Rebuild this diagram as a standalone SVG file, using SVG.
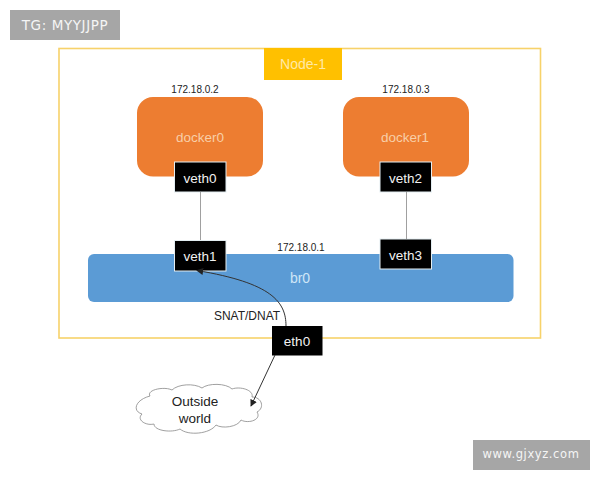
<svg xmlns="http://www.w3.org/2000/svg" width="600" height="480" viewBox="0 0 600 480">
<style>
text{font-family:"Liberation Sans",Arial,sans-serif;text-anchor:middle}
.b{fill:#000;stroke:#e4eef2;stroke-width:1}
.bt{fill:#f2f2f2;font-size:13.500px}
.d{fill:#ed7d31;stroke:none}
.dt{fill:#f8cfa8;font-size:13.500px}
.ip{fill:#222;font-size:10px}
.wm{fill:#a6a6a6}
.wmt{fill:#f5f5f5;font-family:"DejaVu Sans",sans-serif;font-size:13.500px;letter-spacing:.6px}
.c{fill:none;stroke:#333;stroke-width:1}
.g{fill:none;stroke:#a0a0a0;stroke-width:1}
</style>
<defs>
<marker id="a" viewBox="0 0 8 8" refX="7" refY="4" markerWidth="7" markerHeight="7" orient="auto" markerUnits="userSpaceOnUse"><path d="M0 0L8 4L0 8Z" fill="#222"/></marker>
</defs>
<rect width="600" height="480" fill="#fff"/>
<g id="wm1"><rect class="wm" x="10" y="10" width="110" height="30"/><text class="wmt" x="65" y="30">TG: MYYJJPP</text></g>
<g id="node-1"><rect x="59" y="48.500" width="481.500" height="289.500" fill="#fff" stroke="#f7d26a" stroke-width="1.600"/>
<rect x="264" y="48" width="78" height="32" fill="#ffc000"/><text x="303" y="69" fill="#ffe9a6" font-size="14">Node-1</text></g>
<g id="br0"><rect x="88" y="254" width="425.500" height="48" rx="6" fill="#5b9bd5"/><text x="300" y="283" fill="#cfe6f7" font-size="14">br0</text></g>
<g id="docker0"><rect class="d" x="137" y="97" width="126" height="79.500" rx="16"/><text class="dt" x="200" y="142">docker0</text></g>
<g id="docker1"><rect class="d" x="343" y="97" width="126" height="79.500" rx="16"/><text class="dt" x="405" y="142">docker1</text></g>
<g id="veth0"><rect class="b" x="174.500" y="162" width="51.500" height="30"/><text class="bt" x="200" y="183">veth0</text></g>
<g id="veth2"><rect class="b" x="380" y="162" width="51.500" height="30"/><text class="bt" x="405.500" y="183">veth2</text></g>
<g id="veth1"><rect class="b" x="174.500" y="240.500" width="51.500" height="30.500"/><text class="bt" x="200" y="261">veth1</text></g>
<g id="veth3"><rect class="b" x="380" y="239" width="51.500" height="30"/><text class="bt" x="405.500" y="260">veth3</text></g>
<g id="eth0"><rect x="272" y="326" width="50.500" height="29.500" fill="#000"/><text class="bt" x="297" y="346">eth0</text></g>
<text class="ip" x="195" y="93">172.18.0.2</text>
<text class="ip" x="406" y="93">172.18.0.3</text>
<text class="ip" x="301" y="251">172.18.0.1</text>
<text x="247" y="320" fill="#222" font-size="12">SNAT/DNAT</text>
<g id="outside"><path d="M150 396C146 390 164 386 172 390C178 384 194 383 202 388C208 383 226 383 232 389C240 386 254 390 252 397C262 397 265 408 257 412C262 420 248 424 241 420C238 427 222 429 216 425C210 434 188 436 180 429C172 433 154 431 154 424C146 426 136 420 142 414C132 411 135 400 150 396Z" fill="#fff" stroke="#888" stroke-width=".8"/>
<text x="195" y="406" fill="#222" font-size="13.500">Outside</text><text x="195" y="423" fill="#222" font-size="13.500">world</text></g>
<g id="connectors">
<path class="g" d="M200.500 192V240"/>
<path class="g" d="M406.500 192V239"/>
<path class="c" d="M286 326C286 302 272 283 197 270.500" marker-end="url(#a)"/>
<path class="c" d="M275 355L251 406" marker-end="url(#a)"/>
</g>
<g id="wm2"><rect class="wm" x="473" y="440" width="117" height="30"/><text class="wmt" x="531" y="458" style="font-size:11.500px">www.gjxyz.com</text></g>
</svg>
